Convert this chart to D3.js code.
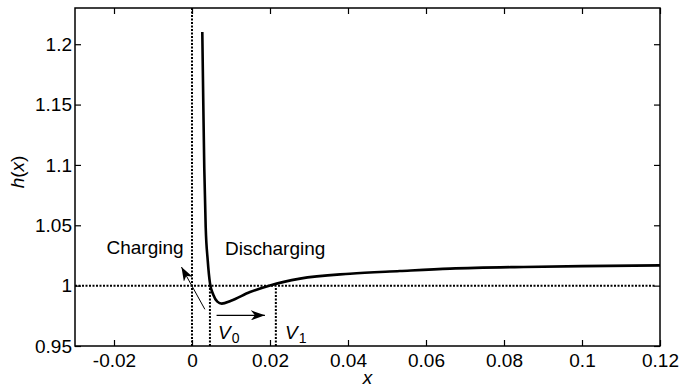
<!DOCTYPE html>
<html>
<head>
<meta charset="utf-8">
<script src="https://cdn.jsdelivr.net/npm/d3@7"></script>
<style>
  body { margin: 0; background: #fff; }
  svg { font-family: "Liberation Sans", Arial, sans-serif; }
</style>
</head>
<body>
<svg id="chart" width="679" height="388"></svg>
<script>
// Curve h(x)
const xs = [0.00264, 0.0029, 0.00315, 0.00351, 0.00403, 0.00462, 0.00546, 0.0065, 0.00762, 0.010, 0.01487, 0.0200, 0.0277, 0.0405, 0.0533, 0.0662, 0.085, 0.100, 0.120]
const hs = [1.2102, 1.150, 1.0972, 1.0486, 1.021, 1.0019, 0.9925, 0.9868, 0.9851, 0.9875, 0.9947, 1.0002, 1.0058, 1.0099, 1.0121, 1.0141, 1.0155, 1.0162, 1.0168]

const xTicks = [-0.02, 0, 0.02, 0.04, 0.06, 0.08, 0.1, 0.12]
const yTicks = [0.95, 1, 1.05, 1.1, 1.15, 1.2]

// Reference lines
const hLevel = 1
const hLineEnd = 0.1187
const v0 = 0.0046
const v1 = 0.0215

const margin = {top: 8, right: 19, bottom: 42, left: 75}
const width = 679, height = 388
const iw = width - margin.left - margin.right
const ih = height - margin.top - margin.bottom
const font = '"Liberation Sans", Arial, sans-serif'

const x = d3.scaleLinear().domain([-0.03, 0.12]).range([0, iw])
const y = d3.scaleLinear().domain([0.95, 1.23]).range([ih, 0])

const svg = d3.select("#chart")
const g = svg.append("g").attr("transform", `translate(${margin.left},${margin.top})`)

const fmt = d => String(d)

// Axes: ticks inward on all four sides
function styleAxis(sel) {
  sel.attr("font-family", font).attr("font-size", 19)
  sel.select(".domain").remove()
  sel.selectAll(".tick line").attr("stroke", "#000").attr("stroke-width", 1.2)
  sel.selectAll(".tick text").attr("fill", "#000")
}

g.append("g")
    .attr("transform", `translate(0,${ih})`)
    .call(d3.axisBottom(x).tickValues(xTicks).tickFormat(fmt).tickSizeInner(-6).tickSizeOuter(0).tickPadding(8))
    .call(styleAxis)
g.append("g")
    .call(d3.axisTop(x).tickValues(xTicks).tickFormat("").tickSizeInner(-6).tickSizeOuter(0))
    .call(styleAxis)
g.append("g")
    .call(d3.axisLeft(y).tickValues(yTicks).tickFormat(fmt).tickSizeInner(-6).tickSizeOuter(0).tickPadding(3))
    .call(styleAxis)
g.append("g")
    .attr("transform", `translate(${iw},0)`)
    .call(d3.axisRight(y).tickValues(yTicks).tickFormat("").tickSizeInner(-6).tickSizeOuter(0))
    .call(styleAxis)

// Box
g.append("rect")
    .attr("width", iw).attr("height", ih)
    .attr("fill", "none").attr("stroke", "#000").attr("stroke-width", 1.5)

// Dotted reference lines
const dotted = sel => sel.attr("stroke", "#000").attr("stroke-width", 2).attr("stroke-dasharray", "2,1.5").attr("fill", "none")

g.append("line").call(dotted)
    .attr("x1", x(-0.03)).attr("x2", x(hLineEnd)).attr("y1", y(hLevel)).attr("y2", y(hLevel))
g.append("line").call(dotted)
    .attr("x1", x(0)).attr("x2", x(0)).attr("y1", y(0.95)).attr("y2", y(1.23))
g.append("line").call(dotted)
    .attr("x1", x(v0)).attr("x2", x(v0)).attr("y1", y(0.95)).attr("y2", y(hLevel))
g.append("line").call(dotted)
    .attr("x1", x(v1)).attr("x2", x(v1)).attr("y1", y(0.95)).attr("y2", y(0.998))

// Curve
const line = d3.line().x(d => x(d[0])).y(d => y(d[1])).curve(d3.curveMonotoneX)
g.append("path")
    .datum(d3.zip(xs, hs))
    .attr("d", line)
    .attr("fill", "none").attr("stroke", "#000").attr("stroke-width", 2.6)

// Arrowheads
const defs = svg.append("defs")
defs.append("marker")
    .attr("id", "head").attr("viewBox", "0 0 14 10")
    .attr("refX", 14).attr("refY", 5)
    .attr("markerWidth", 14).attr("markerHeight", 10)
    .attr("markerUnits", "userSpaceOnUse").attr("orient", "auto")
  .append("path").attr("d", "M0,0 L14,5 L0,10 L4,5 Z").attr("fill", "#000")

// Charging arrow
g.append("line")
    .attr("x1", x(0.0033)).attr("y1", y(0.9804))
    .attr("x2", x(-0.0027)).attr("y2", y(1.0154))
    .attr("stroke", "#000").attr("stroke-width", 1).attr("marker-end", "url(#head)")
// V0 -> V1 arrow
g.append("line")
    .attr("x1", x(0.0063)).attr("y1", y(0.9754))
    .attr("x2", x(0.0187)).attr("y2", y(0.9754))
    .attr("stroke", "#000").attr("stroke-width", 1.2).attr("marker-end", "url(#head)")

// Annotations
g.append("text").attr("x", 106.5 - margin.left).attr("y", 254 - margin.top)
    .attr("font-size", 19).text("Charging")
g.append("text").attr("x", 225 - margin.left).attr("y", 255 - margin.top)
    .attr("font-size", 19).text("Discharging")

function vLabel(px, sub) {
  const t = g.append("text").attr("x", px - margin.left).attr("y", 339 - margin.top).attr("font-size", 19)
  t.append("tspan").attr("font-style", "italic").text("V")
  t.append("tspan").attr("font-size", 14).attr("dy", 4).attr("dx", 1).text(sub)
}
vLabel(218, "0")
vLabel(285, "1")

// Axis labels
svg.append("text")
    .attr("x", margin.left + iw / 2).attr("y", 384)
    .attr("text-anchor", "middle").attr("font-size", 19).attr("font-style", "italic").text("x")
const yl = svg.append("text")
    .attr("transform", `translate(24,172) rotate(-90)`)
    .attr("text-anchor", "middle").attr("font-size", 19)
yl.append("tspan").attr("font-style", "italic").text("h")
yl.append("tspan").text("(")
yl.append("tspan").attr("font-style", "italic").text("x")
yl.append("tspan").text(")")
</script>
</body>
</html>
